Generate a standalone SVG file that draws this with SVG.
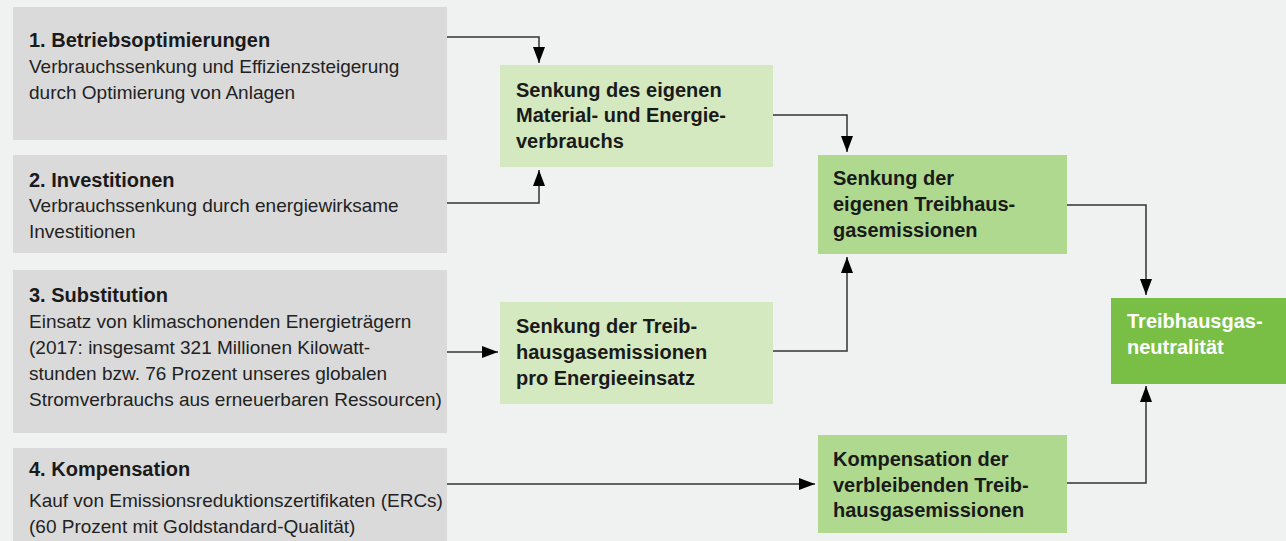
<svg xmlns="http://www.w3.org/2000/svg" width="1286" height="541" viewBox="0 0 1286 541">
<defs>
<style>
.bg{fill:#f0f2f1}
.gray{fill:#dadada}
.g1{fill:#d4e9c0}
.g2{fill:#afd98e}
.g3{fill:#79be45}
text{font-family:"Liberation Sans",Arial,Helvetica,sans-serif;fill:#1a1a1a}
.t{font-size:20px;font-weight:bold}
.b{font-size:19px;fill:#222222}
.w{fill:#ffffff}
.c{fill:none;stroke:#333333;stroke-width:1.5}
</style>
<marker id="ah" markerUnits="userSpaceOnUse" markerWidth="16" markerHeight="12" refX="16" refY="6" orient="auto" viewBox="0 0 16 12">
<path d="M0,0 L16,6 L0,12 z" fill="#000000"/>
</marker>
</defs>
<rect class="bg" x="0" y="0" width="1286" height="541"/>

<g id="node-betrieb">
<rect class="gray" x="13" y="7" width="434" height="133"/>
<text class="t" x="29" y="47">1. Betriebsoptimierungen</text>
<text class="b" x="29" y="73">Verbrauchssenkung und Effizienzsteigerung</text>
<text class="b" x="29" y="99">durch Optimierung von Anlagen</text>
</g>

<g id="node-invest">
<rect class="gray" x="13" y="155" width="434" height="98"/>
<text class="t" x="29" y="187">2. Investitionen</text>
<text class="b" x="29" y="212">Verbrauchssenkung durch energiewirksame</text>
<text class="b" x="29" y="238">Investitionen</text>
</g>

<g id="node-subst">
<rect class="gray" x="13" y="270" width="434" height="163"/>
<text class="t" x="29" y="302">3. Substitution</text>
<text class="b" x="29" y="328">Einsatz von klimaschonenden Energieträgern</text>
<text class="b" x="29" y="354">(2017: insgesamt 321 Millionen Kilowatt-</text>
<text class="b" x="29" y="380">stunden bzw. 76 Prozent unseres globalen</text>
<text class="b" x="29" y="406">Stromverbrauchs aus erneuerbaren Ressourcen)</text>
</g>

<g id="node-komp">
<rect class="gray" x="13" y="448" width="434" height="93"/>
<text class="t" x="29" y="476">4. Kompensation</text>
<text class="b" x="29" y="507">Kauf von Emissionsreduktionszertifikaten (ERCs)</text>
<text class="b" x="29" y="533">(60 Prozent mit Goldstandard-Qualität)</text>
</g>

<g id="node-material">
<rect class="g1" x="500" y="65" width="273" height="102"/>
<text class="t" x="516" y="97">Senkung des eigenen</text>
<text class="t" x="516" y="122">Material- und Energie-</text>
<text class="t" x="516" y="148">verbrauchs</text>
</g>

<g id="node-proenergie">
<rect class="g1" x="500" y="302" width="273" height="102"/>
<text class="t" x="516" y="333">Senkung der Treib-</text>
<text class="t" x="516" y="359">hausgasemissionen</text>
<text class="t" x="516" y="385">pro Energieeinsatz</text>
</g>

<g id="node-eigene">
<rect class="g2" x="818" y="155" width="249" height="99"/>
<text class="t" x="833" y="185">Senkung der</text>
<text class="t" x="833" y="211">eigenen Treibhaus-</text>
<text class="t" x="833" y="237">gasemissionen</text>
</g>

<g id="node-kompensation">
<rect class="g2" x="818" y="435" width="249" height="98"/>
<text class="t" x="833" y="466">Kompensation der</text>
<text class="t" x="833" y="492">verbleibenden Treib-</text>
<text class="t" x="833" y="517">hausgasemissionen</text>
</g>

<g id="node-neutral">
<rect class="g3" x="1111" y="298" width="175" height="86"/>
<text class="t w" x="1127" y="328">Treibhausgas-</text>
<text class="t w" x="1127" y="354">neutralität</text>
</g>

<g id="connectors">
<path class="c" d="M447,37 H539 V63" marker-end="url(#ah)"/>
<path class="c" d="M447,203 H539 V170" marker-end="url(#ah)"/>
<path class="c" d="M447,352 H498" marker-end="url(#ah)"/>
<path class="c" d="M447,484 H815" marker-end="url(#ah)"/>
<path class="c" d="M773,115 H847 V152" marker-end="url(#ah)"/>
<path class="c" d="M773,351 H847 V257" marker-end="url(#ah)"/>
<path class="c" d="M1067,205 H1146 V295" marker-end="url(#ah)"/>
<path class="c" d="M1067,483 H1146 V386" marker-end="url(#ah)"/>
</g>
</svg>
